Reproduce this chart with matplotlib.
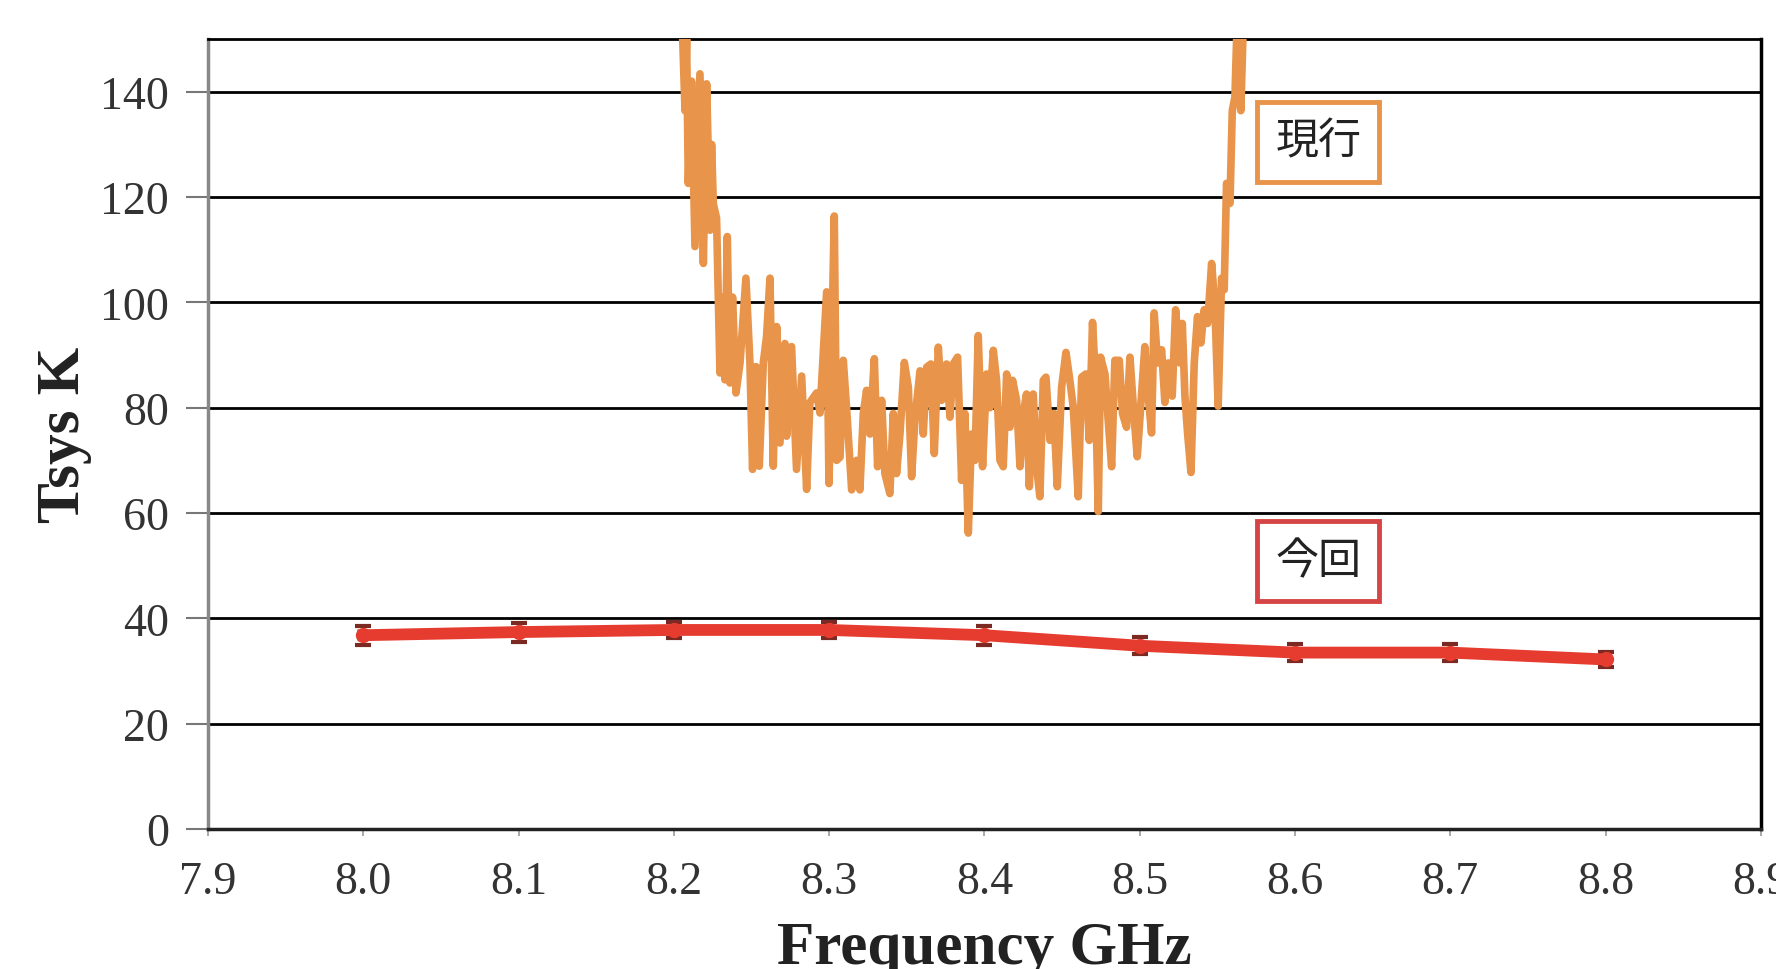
import matplotlib
matplotlib.use("Agg")
import matplotlib.pyplot as plt

old_freq = [8.2045, 8.2057, 8.2072, 8.2082, 8.2093, 8.2114, 8.2136, 8.2168, 8.2190, 8.2211,
            8.2233, 8.2243, 8.2254, 8.2275, 8.2297, 8.2318, 8.2329, 8.2344, 8.2361, 8.2378,
            8.2400, 8.2426, 8.2464, 8.2490, 8.2507, 8.2529, 8.2550, 8.2576, 8.2597, 8.2619,
            8.2640, 8.2662, 8.2683, 8.2715, 8.2726, 8.2758, 8.2790, 8.2823, 8.2855, 8.2876,
            8.2919, 8.2941, 8.2984, 8.2999, 8.3033, 8.3048, 8.3070, 8.3091, 8.3112, 8.3145,
            8.3177, 8.3198, 8.3220, 8.3241, 8.3263, 8.3291, 8.3312, 8.3338, 8.3359, 8.3391,
            8.3413, 8.3434, 8.3456, 8.3484, 8.3510, 8.3531, 8.3552, 8.3585, 8.3606, 8.3628,
            8.3655, 8.3677, 8.3703, 8.3724, 8.3756, 8.3778, 8.3799, 8.3827, 8.3853, 8.3874,
            8.3896, 8.3917, 8.3939, 8.3960, 8.3988, 8.4014, 8.4035, 8.4057, 8.4078, 8.4100,
            8.4121, 8.4143, 8.4164, 8.4181, 8.4207, 8.4229, 8.4250, 8.4271, 8.4289, 8.4314,
            8.4336, 8.4357, 8.4379, 8.4396, 8.4422, 8.4447, 8.4469, 8.4497, 8.4525, 8.4550,
            8.4572, 8.4604, 8.4626, 8.4653, 8.4675, 8.4696, 8.4711, 8.4733, 8.4748, 8.4776,
            8.4797, 8.4819, 8.4840, 8.4868, 8.4889, 8.4915, 8.4937, 8.4962, 8.4984, 8.5033,
            8.5055, 8.5076, 8.5093, 8.5115, 8.5141, 8.5162, 8.5184, 8.5209, 8.5231, 8.5259,
            8.5274, 8.5291, 8.5308, 8.5330, 8.5351, 8.5372, 8.5394, 8.5415, 8.5437, 8.5463,
            8.5484, 8.5505, 8.5527, 8.5544, 8.5559, 8.5581, 8.5596, 8.5613, 8.5624, 8.5639,
            8.5651, 8.5666]
old_tsys = [152, 150, 136.4, 150, 122.6, 142, 110.6, 143.4, 107.4, 141.5,
            113.7, 130, 118.7, 116, 86.6, 101, 85.3, 112.5, 84.7, 101,
            82.8, 88.5, 104.6, 88.5, 68.3, 87.8, 68.9, 88.5, 93.5, 104.6,
            68.9, 95.4, 73.3, 92.2, 74.6, 91.6, 68.3, 86, 64.5, 81,
            82.8, 79, 102, 65.6, 116.4, 70, 70.6, 89, 80, 64.4,
            70, 64.4, 78.9, 83.3, 75, 89.3, 68.8, 81.4, 67.5, 63.7,
            78.9, 67.5, 75, 88.6, 83.9, 66.9, 77.6, 87, 75, 87.7,
            88.3, 71.3, 91.5, 81.4, 88.3, 78.2, 88.3, 89.6, 66.2, 78.9,
            56.2, 75, 70, 93.7, 68.8, 86.4, 80, 90.9, 85.2, 70,
            68.8, 86.4, 76.3, 85.2, 81.4, 68.8, 78.9, 82.6, 65, 82.6,
            68.8, 63.1, 85.2, 85.8, 73.8, 78.9, 65, 83.9, 90.5, 85.2,
            80.1, 63.1, 85.8, 86.4, 73.8, 96.2, 87.7, 60.3, 89.6, 86.4,
            77.6, 68.8, 89, 89, 78.9, 76.3, 89.6, 78.9, 70.7, 91.6,
            82.2, 75.2, 98, 88.5, 91, 81, 88.5, 82.2, 98.6, 88.5,
            96, 82.2, 75.2, 67.7, 88.5, 97.3, 92.3, 98.6, 96, 107.4,
            99.2, 80.3, 104.6, 102.4, 122.6, 118.8, 136.4, 139, 150, 152,
            136.4, 152]

# new receiver (今回)
new_freq = [8.0, 8.1, 8.2, 8.3, 8.4, 8.5, 8.6, 8.7, 8.8]
new_tsys = [36.8, 37.4, 37.8, 37.8, 36.8, 34.8, 33.5, 33.5, 32.2]
new_err = [1.8, 1.8, 1.6, 1.6, 1.8, 1.6, 1.6, 1.6, 1.4]

xticks = [7.9, 8.0, 8.1, 8.2, 8.3, 8.4, 8.5, 8.6, 8.7, 8.8, 8.9]
yticks = [0, 20, 40, 60, 80, 100, 120, 140]

ORANGE = "#E8944A"
RED = "#E63C30"
serif = ["Liberation Serif", "DejaVu Serif"]
cjk = ["Noto Sans CJK JP", "DejaVu Sans"]

fig = plt.figure(figsize=(17.76, 9.70), dpi=100)
ax = fig.add_axes([0.1171, 0.1443, 0.8744, 0.8144])

for y in yticks[1:]:
    ax.axhline(y, color="black", lw=2.0, zorder=1)

ax.plot(old_freq, old_tsys, color=ORANGE, lw=5.5, zorder=3)
ax.errorbar(new_freq, new_tsys, yerr=new_err, color=RED, lw=8.5, marker="o", ms=10,
            ecolor="#7a2a22", elinewidth=1.8, capsize=6, capthick=3, zorder=4)

ax.set_xlim(7.9, 8.9)
ax.set_ylim(0, 150)
ax.set_xticks(xticks)
ax.set_xticklabels([f"{v:.1f}" for v in xticks])
ax.set_yticks(yticks)
ax.tick_params(axis="y", direction="out", length=16, width=1.5, color="#777777",
               pad=12, labelsize=33, labelcolor="#333333")
ax.tick_params(axis="x", direction="out", length=5, width=1.2, color="#999999",
               pad=18, labelsize=33, labelcolor="#333333")
for lab in ax.get_xticklabels() + ax.get_yticklabels():
    lab.set_family(serif)

ax.spines["left"].set_color("#888888")
ax.spines["left"].set_linewidth(2.5)
ax.spines["bottom"].set_color("#222222")
ax.spines["bottom"].set_linewidth(2.5)
ax.spines["top"].set_color("black")
ax.spines["top"].set_linewidth(2.0)
ax.spines["right"].set_color("black")
ax.spines["right"].set_linewidth(2.5)

ax.set_xlabel("Frequency GHz", fontsize=44, fontweight="bold", family=serif,
              color="#222222", labelpad=12)
ax.set_ylabel("Tsys K", fontsize=44, fontweight="bold", family=serif,
              color="#222222", labelpad=6)

ax.text(8.615, 130.5, "現行", fontsize=31, family=cjk, ha="center", va="center",
        color="#222222", zorder=5,
        bbox=dict(boxstyle="square,pad=0.42", fc="white", ec=ORANGE, lw=3.5))
ax.text(8.615, 50.9, "今回", fontsize=31, family=cjk, ha="center", va="center",
        color="#222222", zorder=5,
        bbox=dict(boxstyle="square,pad=0.42", fc="white", ec="#D64545", lw=3.5))

fig.savefig("out.png", dpi=100)
